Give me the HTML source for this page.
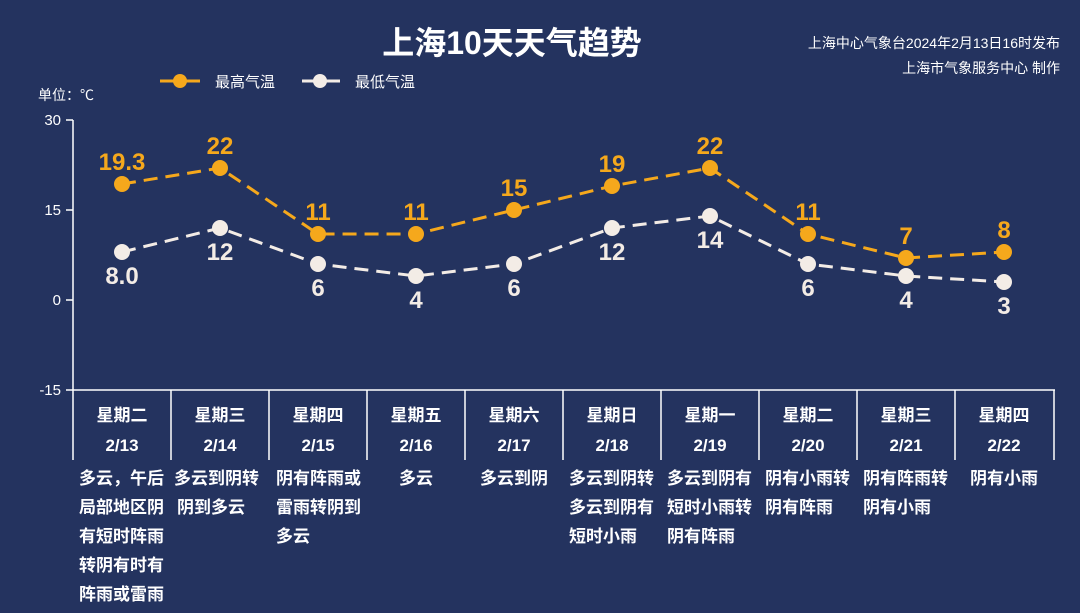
<!DOCTYPE html>
<html><head><meta charset="utf-8"><style>
body{margin:0;background:#24335f;}
svg{display:block;font-family:"Liberation Sans","Noto Sans CJK SC",sans-serif;}
</style></head><body>
<svg width="1080" height="613" viewBox="0 0 1080 613">
<rect width="1080" height="613" fill="#24335f"/>
<text x="512" y="54" text-anchor="middle" font-size="32" font-weight="bold" fill="#fff">上海10天天气趋势</text>
<text x="1060" y="48" text-anchor="end" font-size="14" fill="#fff">上海中心气象台2024年2月13日16时发布</text>
<text x="1060" y="73" text-anchor="end" font-size="14" fill="#fff">上海市气象服务中心 制作</text>
<line x1="160" y1="81" x2="200" y2="81" stroke="#f5a81c" stroke-width="3"/><circle cx="180" cy="81" r="7" fill="#f5a81c"/>
<text x="215" y="87" font-size="15" fill="#fff">最高气温</text>
<line x1="302" y1="81" x2="340" y2="81" stroke="#f3ece6" stroke-width="3"/><circle cx="320" cy="81" r="7" fill="#f3ece6"/>
<text x="355" y="87" font-size="15" fill="#fff">最低气温</text>
<text x="38" y="100" font-size="14" fill="#fff">单位：℃</text>
<g stroke="#fff" stroke-width="1.5">
<line x1="73" y1="120" x2="73" y2="460"/>
<line x1="66" y1="120" x2="73" y2="120"/><line x1="66" y1="210" x2="73" y2="210"/><line x1="66" y1="300" x2="73" y2="300"/><line x1="66" y1="390" x2="1055" y2="390"/>
<line x1="171" y1="390" x2="171" y2="460"/><line x1="269" y1="390" x2="269" y2="460"/><line x1="367" y1="390" x2="367" y2="460"/><line x1="465" y1="390" x2="465" y2="460"/><line x1="563" y1="390" x2="563" y2="460"/><line x1="661" y1="390" x2="661" y2="460"/><line x1="759" y1="390" x2="759" y2="460"/><line x1="857" y1="390" x2="857" y2="460"/><line x1="955" y1="390" x2="955" y2="460"/><line x1="1054" y1="390" x2="1054" y2="460"/>
</g>
<g font-size="15" fill="#fff" text-anchor="end">
<text x="61" y="125">30</text><text x="61" y="215">15</text><text x="61" y="305">0</text><text x="61" y="395">-15</text>
</g>
<polyline points="122,184 220,168 318,234 416,234 514,210 612,186 710,168 808,234 906,258 1004,252" fill="none" stroke="#f5a81c" stroke-width="3" stroke-dasharray="14,8"/>
<polyline points="122,252 220,228 318,264 416,276 514,264 612,228 710,216 808,264 906,276 1004,282" fill="none" stroke="#f3ece6" stroke-width="3" stroke-dasharray="14,8"/>
<g fill="#f5a81c"><circle cx="122" cy="184" r="8"/><circle cx="220" cy="168" r="8"/><circle cx="318" cy="234" r="8"/><circle cx="416" cy="234" r="8"/><circle cx="514" cy="210" r="8"/><circle cx="612" cy="186" r="8"/><circle cx="710" cy="168" r="8"/><circle cx="808" cy="234" r="8"/><circle cx="906" cy="258" r="8"/><circle cx="1004" cy="252" r="8"/></g>
<g fill="#f3ece6"><circle cx="122" cy="252" r="8"/><circle cx="220" cy="228" r="8"/><circle cx="318" cy="264" r="8"/><circle cx="416" cy="276" r="8"/><circle cx="514" cy="264" r="8"/><circle cx="612" cy="228" r="8"/><circle cx="710" cy="216" r="8"/><circle cx="808" cy="264" r="8"/><circle cx="906" cy="276" r="8"/><circle cx="1004" cy="282" r="8"/></g>
<g font-size="24" font-weight="bold" fill="#f5a81c" text-anchor="middle">
<text x="122" y="170">19.3</text><text x="220" y="154">22</text><text x="318" y="220">11</text><text x="416" y="220">11</text><text x="514" y="196">15</text><text x="612" y="172">19</text><text x="710" y="154">22</text><text x="808" y="220">11</text><text x="906" y="244">7</text><text x="1004" y="238">8</text>
</g>
<g font-size="24" font-weight="bold" fill="#f3ece6" text-anchor="middle">
<text x="122" y="284">8.0</text><text x="220" y="260">12</text><text x="318" y="296">6</text><text x="416" y="308">4</text><text x="514" y="296">6</text><text x="612" y="260">12</text><text x="710" y="248">14</text><text x="808" y="296">6</text><text x="906" y="308">4</text><text x="1004" y="314">3</text>
</g>
<g font-size="17" font-weight="bold" fill="#fff" text-anchor="middle">
<text x="122" y="421">星期二</text><text x="220" y="421">星期三</text><text x="318" y="421">星期四</text><text x="416" y="421">星期五</text><text x="514" y="421">星期六</text><text x="612" y="421">星期日</text><text x="710" y="421">星期一</text><text x="808" y="421">星期二</text><text x="906" y="421">星期三</text><text x="1004" y="421">星期四</text>
<text x="122" y="451">2/13</text><text x="220" y="451">2/14</text><text x="318" y="451">2/15</text><text x="416" y="451">2/16</text><text x="514" y="451">2/17</text><text x="612" y="451">2/18</text><text x="710" y="451">2/19</text><text x="808" y="451">2/20</text><text x="906" y="451">2/21</text><text x="1004" y="451">2/22</text>
</g>
<g font-size="17" font-weight="bold" fill="#fff">
<text x="79" y="484">多云，午后</text><text x="79" y="513">局部地区阴</text><text x="79" y="542">有短时阵雨</text><text x="79" y="571">转阴有时有</text><text x="79" y="600">阵雨或雷雨</text>
<text x="174" y="484">多云到阴转</text><text x="177" y="513">阴到多云</text>
<text x="276" y="484">阴有阵雨或</text><text x="276" y="513">雷雨转阴到</text><text x="276" y="542">多云</text>
<text x="416" y="484" text-anchor="middle">多云</text>
<text x="514" y="484" text-anchor="middle">多云到阴</text>
<text x="569" y="484">多云到阴转</text><text x="569" y="513">多云到阴有</text><text x="569" y="542">短时小雨</text>
<text x="667" y="484">多云到阴有</text><text x="667" y="513">短时小雨转</text><text x="667" y="542">阴有阵雨</text>
<text x="765" y="484">阴有小雨转</text><text x="765" y="513">阴有阵雨</text>
<text x="863" y="484">阴有阵雨转</text><text x="863" y="513">阴有小雨</text>
<text x="1004" y="484" text-anchor="middle">阴有小雨</text>
</g>
</svg>
</body></html>
